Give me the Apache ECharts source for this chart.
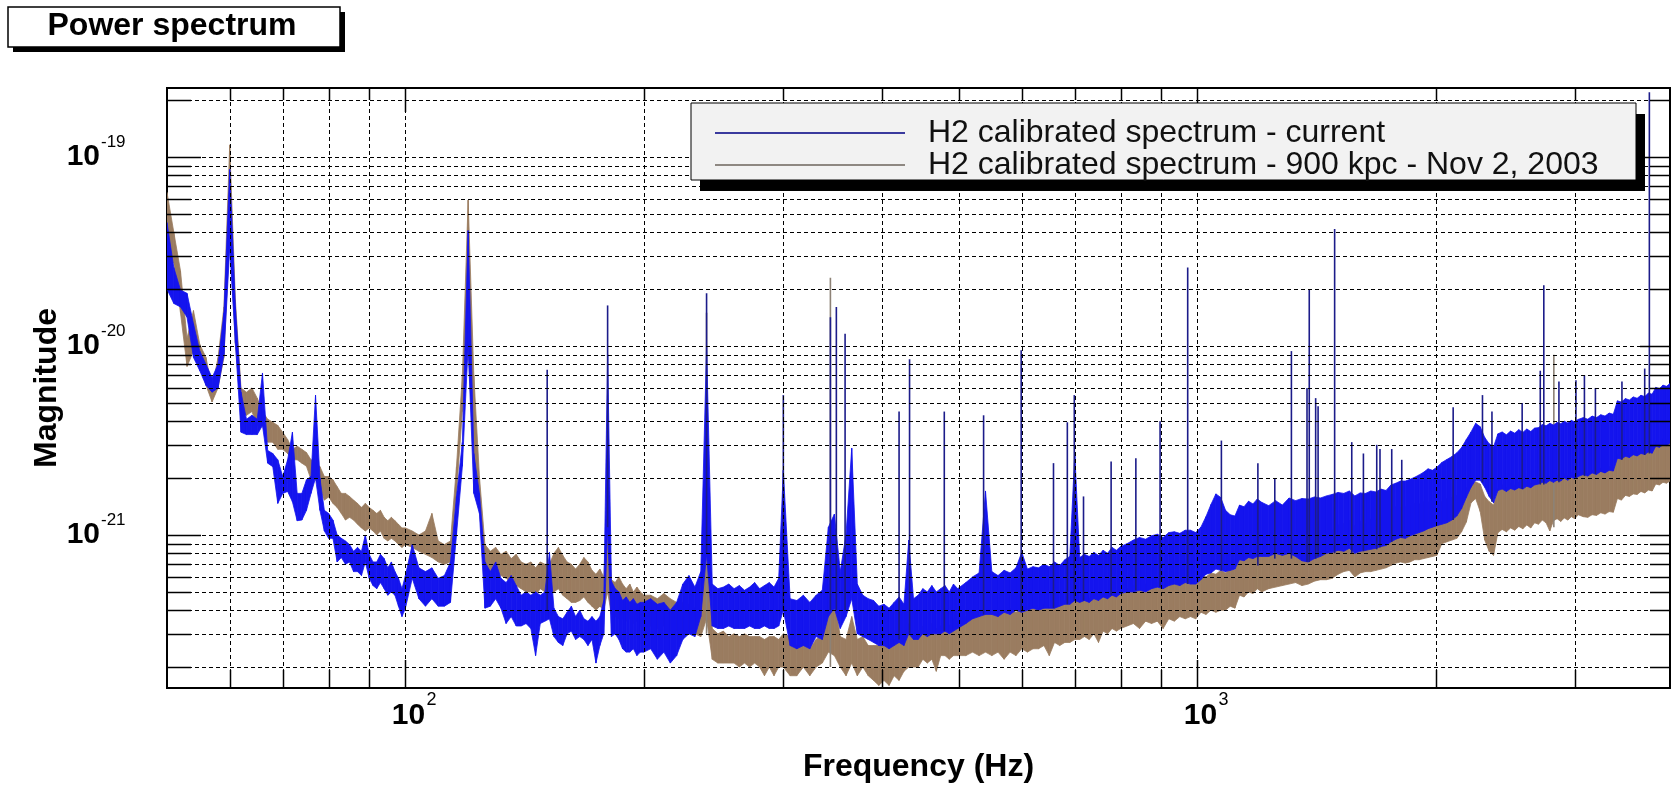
<!DOCTYPE html>
<html>
<head>
<meta charset="utf-8">
<title>Power spectrum</title>
<script src="https://cdn.jsdelivr.net/npm/echarts@6/dist/echarts.min.js"></script>
<style>
  * { margin: 0; padding: 0; }
  html, body { background: #fff; overflow: hidden; }
  #chart-container { width: 1673px; height: 785px; }
</style>
</head>
<body>
<div id="chart-container"></div>
<script>
// magnitudes are written (and plotted) in units of 10^UNIT_EXP
var UNIT_EXP = -23

var freqs = [
  50, 51, 52, 53, 54, 55, 56, 57, 58, 59,
  60, 61, 62, 63, 64, 65, 66, 67, 68, 69,
  70, 71, 72, 73, 74, 75, 76, 77, 78, 79,
  80, 81, 82, 83, 84, 85, 86, 87, 88, 89,
  90, 91, 92, 93, 94, 95, 96, 97, 98, 99,
  100, 102, 104, 106, 108, 110, 112, 114, 116, 118,
  120, 122, 124, 126, 128, 130, 132, 134, 136, 138,
  140, 142, 144, 146, 148, 150, 152, 154, 156, 158,
  160, 162, 164, 166, 168, 170, 172, 174, 176, 178,
  180, 182, 184, 186, 188, 190, 192, 194, 196, 198,
  200, 204, 208, 212, 216, 220, 224, 228, 232, 236,
  240, 244, 248, 252, 256, 260, 264, 268, 272, 276,
  280, 284, 288, 292, 296, 300, 306, 312, 318, 324,
  330, 336, 342, 348, 354, 360, 366, 372, 378, 384,
  390, 396, 402, 408, 414, 420, 426, 432, 438, 444,
  450, 456, 462, 468, 474, 480, 486, 492, 498, 510,
  520, 530, 540, 550, 560, 570, 580, 590, 600, 610,
  620, 630, 640, 650, 660, 670, 680, 690, 700, 710,
  720, 730, 740, 750, 760, 770, 780, 790, 800, 815,
  830, 845, 860, 875, 890, 905, 920, 935, 950, 965,
  980, 995, 1010, 1025, 1040, 1055, 1070, 1085, 1100, 1115,
  1130, 1145, 1160, 1175, 1190, 1205, 1230, 1255, 1280, 1305,
  1330, 1355, 1380, 1405, 1430, 1455, 1480, 1505, 1530, 1555,
  1580, 1605, 1630, 1655, 1680, 1705, 1730, 1755, 1780, 1805,
  1830, 1855, 1880, 1905, 1930, 1955, 1980, 2005, 2035, 2065,
  2095, 2125, 2155, 2185, 2215, 2245, 2275, 2305, 2335, 2365,
  2395, 2425, 2455, 2485, 2515, 2545, 2575, 2605, 2635, 2665,
  2695, 2725, 2755, 2785, 2815, 2845, 2875, 2905, 2935, 2965,
  2995, 3025, 3070, 3110, 3150, 3190, 3230, 3270, 3310, 3350,
  3390, 3430, 3470, 3510, 3550, 3590, 3630, 3670, 3710, 3750,
  3790, 3830, 3870, 3910, 3950
]

// H2 calibrated spectrum - current : upper / lower edge of the trace
var currentHigh = [
  4500, 2600, 1980, 1900, 1310, 940, 800, 680, 800, 1500,
  8600, 1610, 570, 410, 430, 410, 720, 280, 270, 250,
  204, 250, 350, 166, 166, 196, 204, 550, 200, 135,
  130, 120, 100, 96, 93, 89, 82, 86, 82, 100,
  79, 72, 72, 79, 75, 67, 72, 64, 59, 52,
  61, 89, 67, 64, 67, 59, 61, 72, 160, 309,
  4080, 270, 166, 72, 64, 72, 59, 56, 61, 54,
  48, 50, 48, 50, 48, 50, 81, 41, 37, 36,
  39, 42, 37, 40, 36, 35, 37, 35, 37, 45,
  900, 57, 52, 50, 45, 47, 44, 46, 43, 44,
  44, 46, 43, 44, 40, 44, 55, 61, 53, 64,
  1000, 55, 52, 53, 55, 52, 54, 51, 53, 56,
  52, 54, 56, 53, 59, 220, 46, 45, 48, 44,
  48, 51, 110, 129, 64, 101, 288, 55, 48, 46,
  45, 42, 43, 41, 44, 47, 43, 94, 46, 48,
  52, 50, 54, 50, 52, 54, 50, 55, 52, 56,
  60, 63, 171, 64, 61, 65, 63, 67, 81, 66,
  68, 67, 70, 68, 72, 69, 74, 77, 270, 76,
  79, 77, 81, 78, 83, 80, 86, 83, 87, 90,
  94, 97, 95, 99, 101, 97, 103, 104, 102, 106,
  106, 103, 110, 125, 145, 165, 158, 135, 128, 126,
  144, 141, 151, 146, 155, 149, 143, 152, 144, 157,
  152, 156, 155, 159, 157, 161, 164, 168, 166, 171,
  161, 167, 166, 171, 169, 175, 172, 184, 188, 193,
  193, 197, 202, 208, 215, 224, 220, 228, 242, 251,
  260, 272, 290, 320, 351, 390, 374, 328, 304, 293,
  343, 351, 339, 355, 346, 361, 349, 364, 353, 368,
  370, 384, 378, 390, 382, 394, 388, 400, 392, 404,
  397, 409, 418, 410, 426, 418, 433, 426, 442, 435,
  513, 505, 527, 518, 538, 529, 549, 540, 564, 556,
  604, 595, 621, 612, 633
]
var currentLow = [
  2000, 1680, 1610, 1420, 870, 740, 620, 570, 600, 900,
  3300, 1040, 350, 340, 340, 340, 380, 240, 230, 147,
  166, 170, 150, 119, 120, 135, 166, 200, 135, 105,
  96, 96, 72, 76, 70, 72, 64, 64, 61, 72,
  59, 54, 52, 56, 52, 48, 50, 48, 42, 37,
  41, 59, 46, 42, 46, 42, 42, 44, 100, 231,
  1000, 166, 130, 41, 42, 46, 41, 34, 37, 33,
  33, 34, 32, 23, 34, 35, 36, 29, 27, 26,
  30, 31, 28, 29, 28, 26, 28, 21, 26, 30,
  110, 29, 30, 28, 25, 24, 24, 25, 23, 24,
  24, 25, 22, 24, 21, 23, 28, 30, 29, 37,
  79, 33, 32, 32, 33, 32, 32, 32, 33, 32,
  32, 33, 32, 32, 33, 40, 26, 25, 26, 25,
  29, 28, 37, 41, 32, 37, 46, 30, 29, 28,
  27, 26, 26, 25, 26, 27, 26, 30, 28, 28,
  30, 29, 30, 30, 30, 31, 30, 31, 32, 34,
  36, 37, 38, 38, 37, 39, 38, 40, 39, 40,
  41, 40, 41, 41, 41, 42, 43, 43, 45, 44,
  45, 44, 46, 45, 47, 46, 48, 47, 49, 50,
  50, 51, 50, 52, 53, 52, 54, 55, 54, 56,
  55, 55, 58, 62, 63, 66, 65, 64, 65, 66,
  74, 73, 76, 75, 77, 77, 77, 80, 78, 80,
  77, 73, 72, 75, 77, 80, 81, 83, 82, 85,
  80, 82, 83, 84, 85, 87, 88, 92, 95, 97,
  96, 99, 101, 103, 105, 108, 110, 112, 114, 116,
  120, 126, 138, 158, 179, 195, 195, 179, 160, 148,
  172, 175, 170, 176, 173, 178, 175, 181, 178, 184,
  186, 190, 188, 194, 190, 195, 193, 200, 195, 202,
  198, 204, 209, 205, 213, 209, 217, 213, 220, 218,
  255, 252, 261, 257, 266, 262, 270, 267, 275, 271,
  295, 291, 300, 297, 307
]

// H2 calibrated spectrum - 900 kpc - Nov 2, 2003
var oldHigh = [
  6500, 4000, 2500, 1100, 1540, 1020, 870, 600, 870, 1610,
  11600, 1750, 600, 570, 600, 530, 450, 410, 395, 380,
  350, 320, 284, 295, 284, 273, 250, 240, 230, 204,
  204, 196, 180, 166, 166, 160, 153, 147, 140, 147,
  140, 135, 130, 135, 124, 119, 124, 119, 114, 109,
  109, 105, 100, 105, 130, 93, 89, 93, 230, 700,
  5920, 700, 204, 89, 82, 86, 79, 82, 75, 79,
  72, 70, 72, 67, 72, 70, 70, 80, 86, 78,
  72, 70, 66, 70, 76, 72, 65, 62, 66, 60,
  150, 58, 56, 60, 55, 52, 55, 50, 53, 50,
  48, 48, 46, 49, 46, 44, 44, 43, 41, 40,
  350, 32, 30, 31, 29, 30, 29, 30, 29, 29,
  29, 28, 29, 29, 28, 30, 29, 26, 28, 25,
  28, 30, 55, 46, 29, 28, 37, 28, 29, 26,
  26, 26, 27, 26, 28, 27, 29, 34, 30, 31,
  33, 31, 34, 32, 33, 35, 33, 36, 35, 37,
  40, 37, 39, 38, 40, 39, 41, 39, 41, 40,
  42, 41, 43, 41, 44, 42, 45, 43, 46, 45,
  48, 46, 49, 47, 50, 48, 50, 49, 51, 52,
  54, 51, 55, 53, 56, 54, 57, 55, 58, 56,
  57, 55, 62, 60, 63, 62, 65, 63, 67, 65,
  77, 75, 80, 78, 82, 81, 83, 85, 86, 92,
  94, 96, 99, 100, 102, 104, 106, 113, 115, 120,
  112, 118, 115, 121, 120, 124, 123, 138, 141, 140,
  141, 143, 147, 146, 150, 149, 152, 155, 150, 156,
  158, 162, 170, 178, 186, 191, 186, 160, 150, 144,
  176, 184, 178, 188, 183, 191, 184, 193, 188, 195,
  194, 202, 195, 204, 200, 207, 202, 211, 205, 214,
  209, 217, 215, 211, 220, 217, 226, 222, 230, 226,
  268, 264, 275, 270, 281, 276, 286, 281, 294, 289,
  315, 311, 323, 318, 329
]
var oldLow = [
  3000, 2750, 1500, 780, 940, 800, 620, 506, 600, 870,
  4000, 1020, 450, 430, 450, 380, 380, 310, 310, 284,
  284, 270, 250, 250, 240, 231, 196, 196, 180, 153,
  159, 147, 140, 130, 120, 124, 120, 114, 109, 105,
  109, 105, 100, 105, 96, 93, 96, 93, 89, 86,
  89, 86, 82, 79, 76, 72, 70, 72, 166, 450,
  1000, 250, 135, 64, 64, 64, 61, 59, 56, 54,
  52, 50, 50, 48, 52, 50, 48, 50, 52, 48,
  46, 44, 44, 45, 47, 44, 42, 40, 42, 40,
  50, 38, 37, 36, 36, 35, 36, 34, 35, 33,
  31, 33, 32, 33, 31, 31, 30, 30, 30, 29,
  36, 22, 21, 21, 21, 21, 20, 21, 20, 21,
  20, 18, 20, 18, 20, 20, 18, 18, 20, 18,
  20, 21, 24, 23, 20, 18, 21, 18, 20, 18,
  17, 16, 17, 16, 18, 17, 19, 20, 20, 20,
  22, 21, 22, 19, 23, 23, 22, 23, 23, 23,
  24, 23, 24, 23, 24, 22, 24, 23, 25, 24,
  25, 25, 26, 23, 27, 26, 27, 27, 28, 28,
  29, 28, 30, 27, 31, 30, 32, 31, 32, 33,
  34, 32, 35, 34, 35, 32, 36, 35, 37, 36,
  37, 36, 39, 38, 40, 39, 40, 40, 42, 41,
  48, 47, 50, 49, 52, 50, 52, 53, 54, 55,
  56, 54, 55, 57, 58, 58, 59, 62, 64, 65,
  60, 63, 64, 64, 65, 66, 67, 69, 71, 72,
  71, 72, 74, 74, 75, 76, 77, 78, 90, 92,
  94, 96, 104, 117, 148, 156, 133, 94, 82, 78,
  103, 107, 104, 109, 106, 111, 108, 113, 109, 116,
  114, 120, 116, 105, 119, 122, 118, 123, 120, 125,
  122, 128, 125, 124, 128, 127, 131, 129, 133, 132,
  156, 153, 162, 160, 165, 164, 170, 167, 173, 171,
  186, 184, 190, 188, 193
]

// narrow lines: [frequency, foot, top]
var currentPeaks = [
  [151, 40, 750], [180, 110, 1640], [240, 80, 1900], [300, 40, 550],
  [344, 40, 1420], [350, 40, 1610], [359, 40, 1160], [420, 28, 450],
  [433, 30, 850], [479, 31, 450], [537, 38, 430], [599, 39, 950],
  [658, 41, 240], [685, 43, 395], [699, 45, 550], [718, 45, 160],
  [778, 48, 245], [836, 51, 255], [897, 53, 400], [972, 55, 2600],
  [1072, 65, 316], [1192, 69, 240], [1252, 75, 200], [1314, 75, 940],
  [1375, 72, 600], [1384, 72, 1980], [1410, 75, 530], [1420, 77, 480],
  [1490, 80, 4160], [1566, 80, 310], [1620, 82, 270], [1684, 84, 300],
  [1700, 86, 285], [1759, 92, 285], [1811, 97, 250], [2103, 120, 475],
  [2290, 190, 550], [2354, 150, 450], [2570, 175, 500], [2709, 185, 740],
  [2737, 185, 2100], [2860, 190, 650], [3005, 200, 660], [3080, 205, 700],
  [3180, 210, 600], [3435, 250, 650], [3670, 265, 760], [3720, 270, 22000]
]
var oldPeaks = [[240, 30, 1500], [344, 20, 2300], [2818, 110, 900]]

var xGrid = [60, 70, 80, 90, 100, 200, 300, 400, 500, 600, 700, 800, 900, 1000, 2000, 3000]
var yGrid = [
  20, 30, 40, 50, 60, 70, 80, 90,
  100, 200, 300, 400, 500, 600, 700, 800, 900,
  1000, 2000, 3000, 4000, 5000, 6000, 7000, 8000, 9000,
  10000, 20000
]
// decades that carry a 10^n label
var xMajor = [100, 1000]
var yMajor = [100, 1000, 10000]

var curName = 'H2 calibrated spectrum - current'
var oldName = 'H2 calibrated spectrum - 900 kpc - Nov 2, 2003'

var X_MIN = 50, X_MAX = 3950, Y_MIN = 15.5, Y_MAX = 23200
var FONT = "'Liberation Sans', Arial, Helvetica, sans-serif"

function isMajor(list, v) {
  for (var i = 0; i < list.length; i++) {
    if (Math.abs(list[i] - v) / list[i] < 1e-6) return true
  }
  return false
}

function bandData(high, low) {
  var out = []
  for (var i = 0; i < freqs.length - 1; i++) {
    out.push([freqs[i], low[i], high[i], freqs[i + 1], low[i + 1], high[i + 1]])
  }
  return out
}

function bandRenderer(color) {
  return function (params, api) {
    var a = api.coord([api.value(0), api.value(2)])
    var b = api.coord([api.value(3), api.value(5)])
    var c = api.coord([api.value(3), api.value(4)])
    var d = api.coord([api.value(0), api.value(1)])
    return {
      type: 'polygon',
      shape: { points: [a, b, c, d] },
      style: { fill: color, stroke: color, lineWidth: 0.8 }
    }
  }
}

function peakRenderer(color) {
  return function (params, api) {
    var top = api.coord([api.value(0), api.value(2)])
    var foot = api.coord([api.value(0), api.value(1)])
    return {
      type: 'line',
      shape: { x1: top[0], y1: top[1], x2: foot[0], y2: foot[1] },
      style: { stroke: color, lineWidth: 1.6 }
    }
  }
}

function vGridRenderer(params, api) {
  var cs = params.coordSys
  var x = Math.round(api.coord([api.value(0), api.value(1)])[0]) + 0.5
  return {
    type: 'line',
    shape: { x1: x, y1: cs.y, x2: x, y2: cs.y + cs.height },
    style: { stroke: '#000', lineWidth: 1, lineDash: [4, 3] }
  }
}

function hGridRenderer(params, api) {
  var cs = params.coordSys
  var y = Math.round(api.coord([api.value(0), api.value(1)])[1]) + 0.5
  return {
    type: 'line',
    shape: { x1: cs.x, y1: y, x2: cs.x + cs.width, y2: y },
    style: { stroke: '#000', lineWidth: 1, lineDash: [4, 3] }
  }
}

function xTickRenderer(params, api) {
  var cs = params.coordSys
  var x = Math.round(api.coord([api.value(0), api.value(1)])[0]) + 0.5
  var big = api.value(2) === 1
  var bottom = cs.y + cs.height
  return {
    type: 'group',
    children: [
      { type: 'line', shape: { x1: x, y1: bottom, x2: x, y2: bottom - (big ? 28 : 18) }, style: { stroke: '#000', lineWidth: 1.5 } },
      { type: 'line', shape: { x1: x, y1: cs.y, x2: x, y2: cs.y + (big ? 24 : 12) }, style: { stroke: '#000', lineWidth: 1.5 } }
    ]
  }
}

function yTickRenderer(params, api) {
  var cs = params.coordSys
  var y = Math.round(api.coord([api.value(0), api.value(1)])[1]) + 0.5
  var big = api.value(2) === 1
  var right = cs.x + cs.width
  return {
    type: 'group',
    children: [
      { type: 'line', shape: { x1: cs.x, y1: y, x2: cs.x + (big ? 34 : 24), y2: y }, style: { stroke: '#000', lineWidth: 1.5 } },
      { type: 'line', shape: { x1: right, y1: y, x2: right - (big ? 30 : 20), y2: y }, style: { stroke: '#000', lineWidth: 1.5 } }
    ]
  }
}

// 10^n labels, drawn as "10" plus a raised exponent
function xLabelRenderer(params, api) {
  var cs = params.coordSys
  var p = api.coord([api.value(0), api.value(1)])
  var bottom = cs.y + cs.height
  var exp = Math.round(Math.log10(api.value(0)))
  return {
    type: 'group',
    children: [
      { type: 'text', x: p[0] + 3, y: bottom + 28, style: { text: '10', font: 'bold 30px ' + FONT, fill: '#000', align: 'center', verticalAlign: 'middle' } },
      { type: 'text', x: p[0] + 21, y: bottom + 12, style: { text: String(exp), font: '18px ' + FONT, fill: '#000', align: 'left', verticalAlign: 'middle' } }
    ]
  }
}

function yLabelRenderer(params, api) {
  var cs = params.coordSys
  var p = api.coord([api.value(0), api.value(1)])
  var exp = Math.round(Math.log10(api.value(1))) + UNIT_EXP
  return {
    type: 'group',
    children: [
      { type: 'text', x: cs.x - 67, y: p[1], style: { text: '10', font: 'bold 30px ' + FONT, fill: '#000', align: 'right', verticalAlign: 'middle' } },
      { type: 'text', x: cs.x - 66, y: p[1] - 15, style: { text: String(exp), font: '17px ' + FONT, fill: '#000', align: 'left', verticalAlign: 'middle' } }
    ]
  }
}

var chartDom = document.getElementById('chart-container')
var myChart = echarts.init(chartDom, null, { renderer: 'canvas' })

var option = {
  animation: false,
  backgroundColor: '#fff',
  graphic: [
    { type: 'rect', shape: { x: 13, y: 12, width: 332, height: 40 }, style: { fill: '#000' }, z: 100 },
    { type: 'rect', shape: { x: 8, y: 7, width: 332, height: 40 }, style: { fill: '#fff', stroke: '#000', lineWidth: 1.5 }, z: 101 },
    {
      type: 'text', x: 172, y: 26, z: 102,
      style: { text: 'Power spectrum', font: 'bold 32px ' + FONT, fill: '#000', align: 'center', verticalAlign: 'middle' }
    },
    // legend frame and its drop shadow
    { type: 'rect', shape: { x: 700, y: 114, width: 945, height: 77 }, style: { fill: '#000' }, z: 4 },
    { type: 'rect', shape: { x: 691, y: 103, width: 945, height: 77 }, style: { fill: '#f2f2f2', stroke: '#000', lineWidth: 1 }, z: 4 }
  ],
  legend: {
    data: [
      { name: curName, itemStyle: { color: '#3a3a9e' } },
      { name: oldName, itemStyle: { color: '#8e8882' } }
    ],
    orient: 'vertical',
    left: 691,
    top: 103,
    z: 6,
    icon: 'rect',
    itemWidth: 190,
    itemHeight: 2,
    itemGap: 0,
    padding: [14, 38, 6, 24],
    selectedMode: false,
    textStyle: { fontFamily: FONT, fontSize: 32, lineHeight: 30, color: '#111', padding: [0, 0, 0, 18] }
  },
  grid: {
    left: 167, top: 88, right: 3, bottom: 97,
    outerBoundsMode: 'none',
    show: true, borderColor: '#000', borderWidth: 2, backgroundColor: 'rgba(0,0,0,0)'
  },
  xAxis: {
    type: 'log',
    logBase: 10,
    min: X_MIN,
    max: X_MAX,
    axisLine: { show: false },
    axisTick: { show: false },
    splitLine: { show: false },
    axisLabel: { show: false },
    name: 'Frequency (Hz)',
    nameLocation: 'middle',
    nameGap: 63,
    nameTextStyle: { fontFamily: FONT, fontWeight: 'bold', fontSize: 32, color: '#000' }
  },
  yAxis: {
    type: 'log',
    logBase: 10,
    min: Y_MIN,
    max: Y_MAX,
    axisLine: { show: false },
    axisTick: { show: false },
    splitLine: { show: false },
    axisLabel: { show: false },
    name: 'Magnitude',
    nameLocation: 'middle',
    nameGap: 104,
    nameTextStyle: { fontFamily: FONT, fontWeight: 'bold', fontSize: 32, color: '#000' }
  },
  series: [
    {
      type: 'custom', name: oldName, clip: true, z: 2,
      itemStyle: { color: '#9a7c60' },
      encode: { x: [0, 3], y: [1, 2, 4, 5] },
      renderItem: bandRenderer('#9a7c60'),
      data: bandData(oldHigh, oldLow)
    },
    {
      type: 'custom', name: oldName, clip: true, z: 2,
      itemStyle: { color: '#9a7c60' },
      encode: { x: 0, y: [1, 2] },
      renderItem: peakRenderer('#8d8276'),
      data: oldPeaks
    },
    {
      type: 'custom', name: curName, clip: true, z: 2,
      itemStyle: { color: '#1414ee' },
      encode: { x: [0, 3], y: [1, 2, 4, 5] },
      renderItem: bandRenderer('#1414ee'),
      data: bandData(currentHigh, currentLow)
    },
    {
      type: 'custom', name: curName, clip: true, z: 2,
      itemStyle: { color: '#1414ee' },
      encode: { x: 0, y: [1, 2] },
      renderItem: peakRenderer('#1c1c8a'),
      data: currentPeaks
    },
    {
      type: 'custom', silent: true, z: 3,
      encode: { x: 0, y: 1 },
      renderItem: vGridRenderer,
      data: xGrid.map(function (v) { return [v, Y_MAX] })
    },
    {
      type: 'custom', silent: true, z: 3,
      encode: { x: 0, y: 1 },
      renderItem: hGridRenderer,
      data: yGrid.map(function (v) { return [X_MAX, v] })
    },
    {
      type: 'custom', silent: true, z: 3,
      encode: { x: 0, y: 1 },
      renderItem: xTickRenderer,
      data: xGrid.map(function (v) { return [v, Y_MAX, isMajor(xMajor, v) ? 1 : 0] })
    },
    {
      type: 'custom', silent: true, z: 3,
      encode: { x: 0, y: 1 },
      renderItem: yTickRenderer,
      data: yGrid.map(function (v) { return [X_MAX, v, isMajor(yMajor, v) ? 1 : 0] })
    },
    {
      type: 'custom', silent: true, z: 3,
      encode: { x: 0, y: 1 },
      renderItem: xLabelRenderer,
      data: xMajor.map(function (v) { return [v, Y_MIN] })
    },
    {
      type: 'custom', silent: true, z: 3,
      encode: { x: 0, y: 1 },
      renderItem: yLabelRenderer,
      data: yMajor.map(function (v) { return [X_MIN, v] })
    }
  ]
}

myChart.setOption(option)
window.addEventListener('resize', myChart.resize)
</script>
</body>
</html>
